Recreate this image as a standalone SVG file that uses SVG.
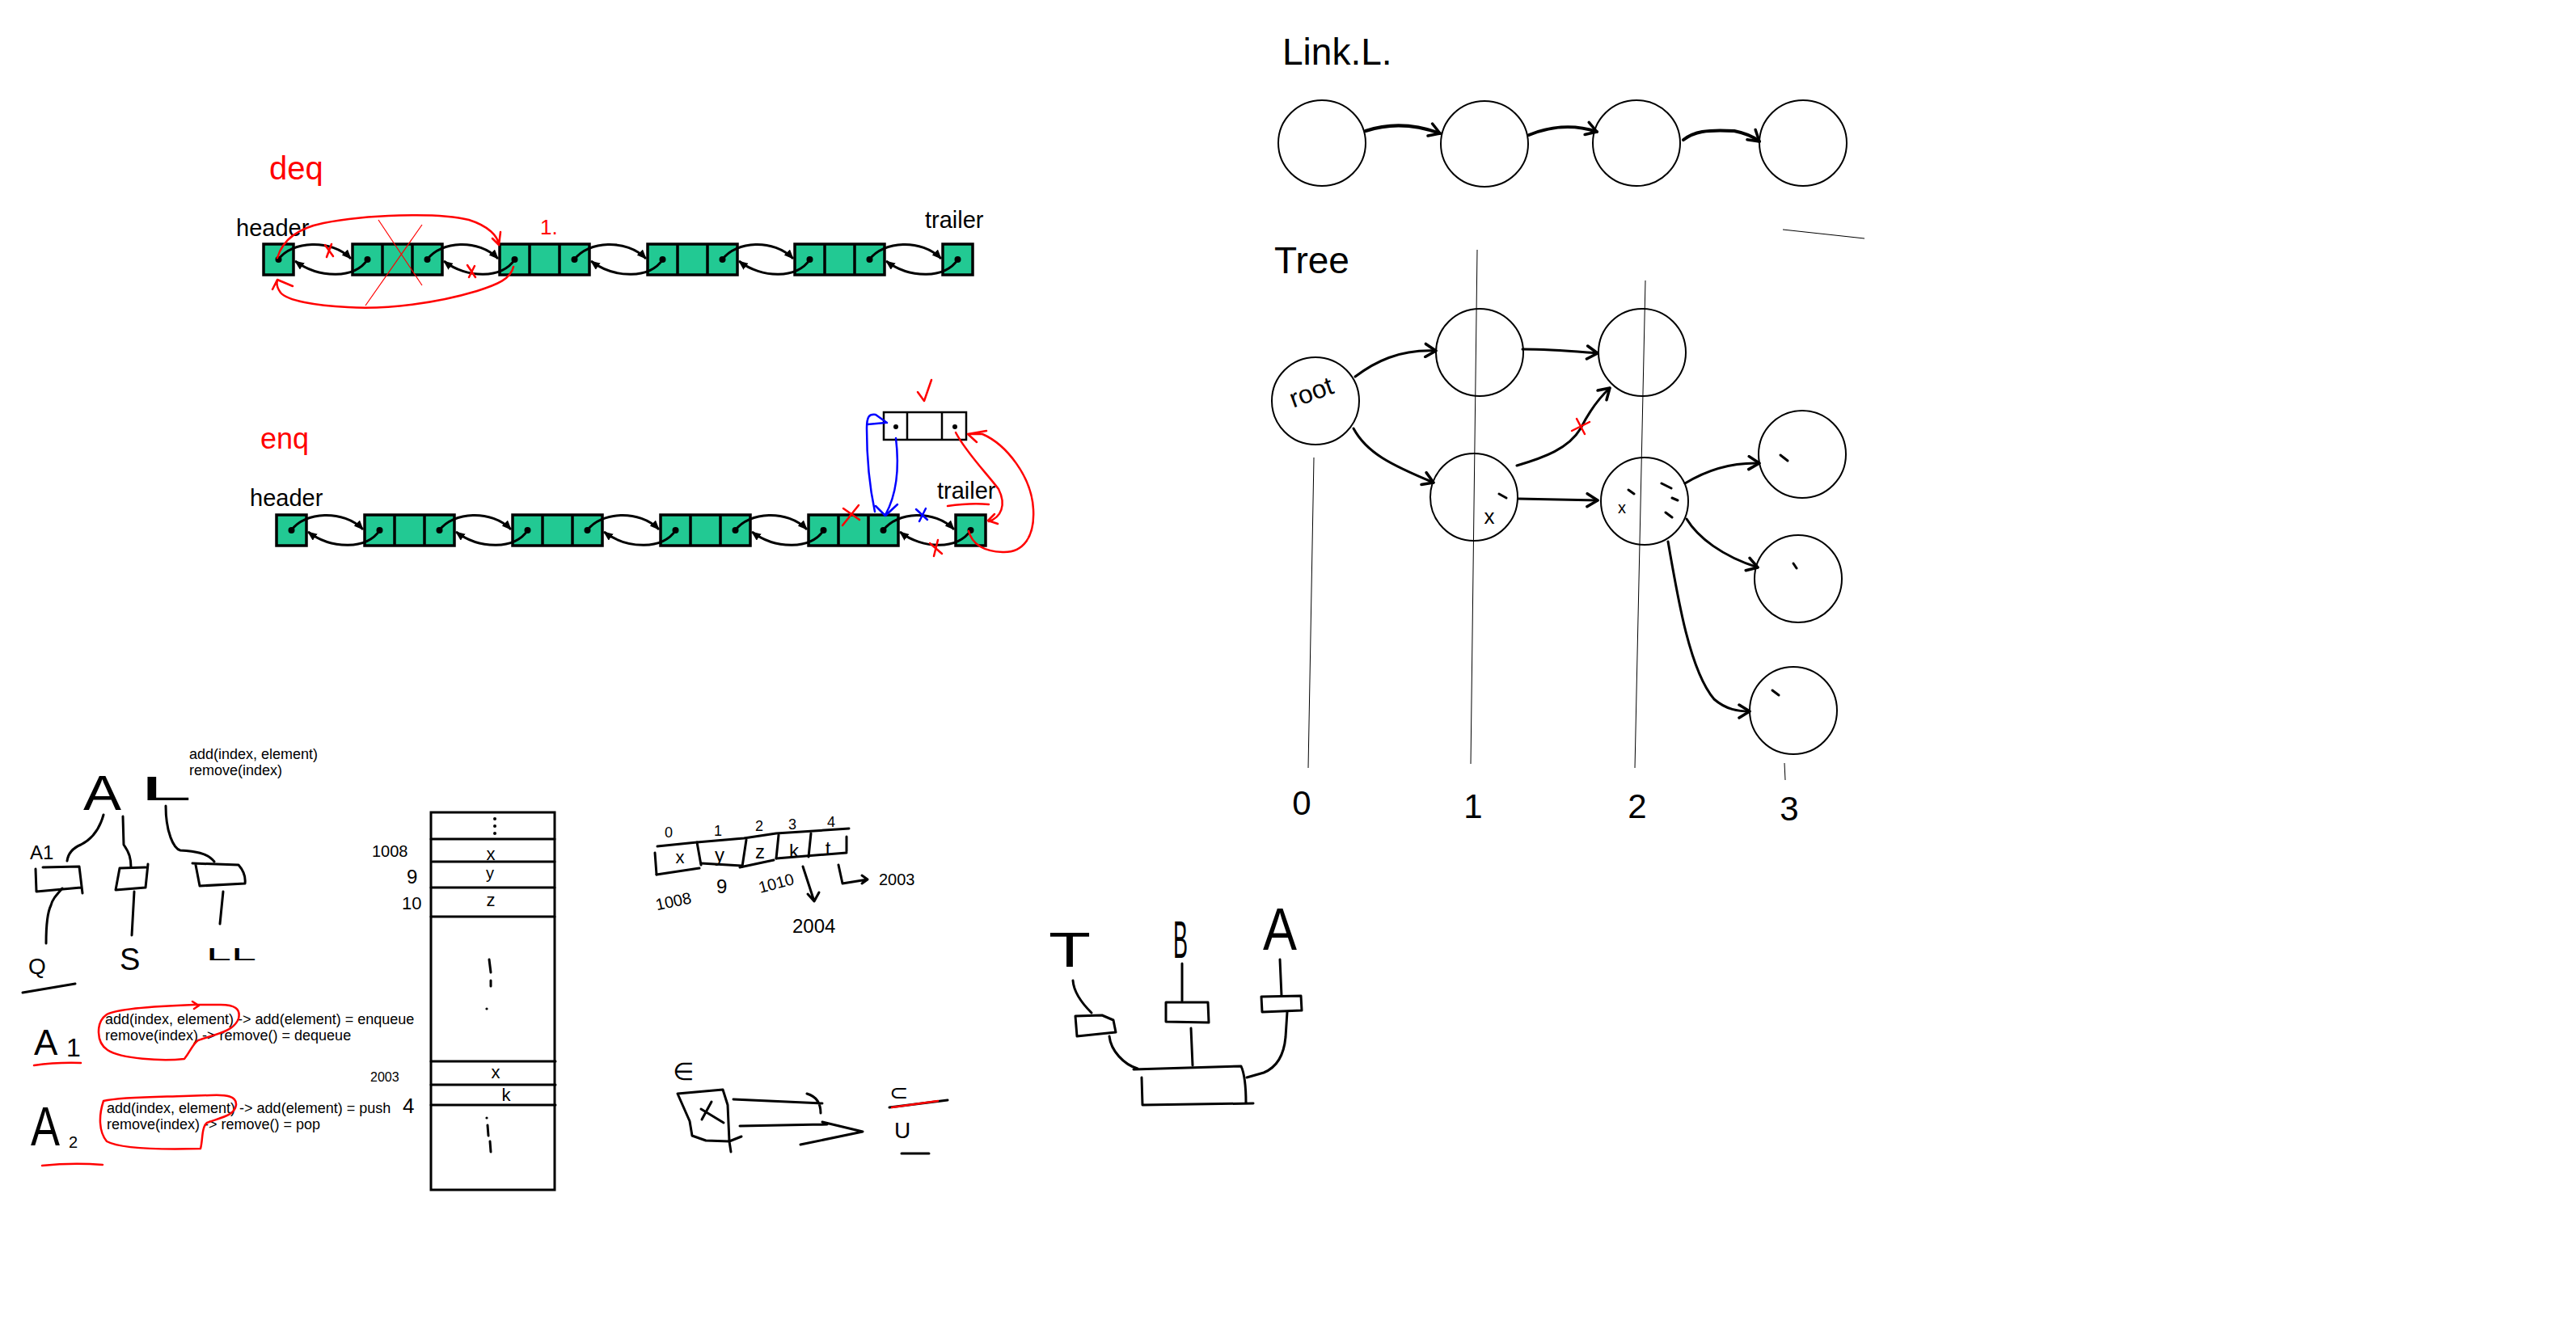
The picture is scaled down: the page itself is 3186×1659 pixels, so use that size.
<svg xmlns="http://www.w3.org/2000/svg" width="3186" height="1659" viewBox="0 0 3186 1659">
<style>
.bg{fill:#fff}
.box{fill:#22c993;stroke:#000;stroke-width:3.5}
.wbox{fill:#fff;stroke:#000;stroke-width:2.5}
.div{stroke:#000;stroke-width:3.5}
.wdiv{stroke:#000;stroke-width:2.5}
.lnk{fill:none;stroke:#000;stroke-width:3}
.red{fill:none;stroke:#f00;stroke-width:2.5;stroke-linecap:round;stroke-linejoin:round}
.redt{fill:none;stroke:#f00;stroke-width:1.2}
.blue{fill:none;stroke:#00f;stroke-width:2.5;stroke-linecap:round;stroke-linejoin:round}
.pen{fill:none;stroke:#000;stroke-width:3;stroke-linecap:round;stroke-linejoin:round}
.pen4{fill:none;stroke:#000;stroke-width:4;stroke-linecap:round;stroke-linejoin:round}
.thin{fill:none;stroke:#000;stroke-width:1}
.circ{fill:none;stroke:#000;stroke-width:2}
.t{font-family:"Liberation Sans",Arial,sans-serif;fill:#000}
.tr{font-family:"Liberation Sans",Arial,sans-serif;fill:#f00}
.dj{font-family:"DejaVu Sans",sans-serif;fill:#000}
</style>
<defs>
<marker id="ah" viewBox="0 0 12 10" refX="11" refY="5" markerWidth="12" markerHeight="10" markerUnits="userSpaceOnUse" orient="auto"><path d="M0,0 L12,5 L0,10 z" fill="#000"/></marker>
<marker id="chev" viewBox="0 0 20 20" refX="17" refY="10" markerWidth="20" markerHeight="20" markerUnits="userSpaceOnUse" orient="auto"><path d="M4,2 L17,10 L4,18" fill="none" stroke="#000" stroke-width="3.5" stroke-linecap="round" stroke-linejoin="round"/></marker>
</defs>
<rect class="bg" width="3186" height="1659"/>

<!-- ===== Deq list ===== -->
<g id="deq-list">
<text class="tr" x="333" y="222" font-size="40">deq</text>
<text class="t" x="292" y="292" font-size="29">header</text>
<text class="t" x="1144" y="282" font-size="29">trailer</text>
<text class="tr" x="668" y="290" font-size="26">1.</text>
<g id="deq-header"><rect class="box" x="326" y="302" width="37" height="38"/><circle cx="344.5" cy="321" r="4"/></g>
<g id="deq-n1"><rect class="box" x="436" y="302" width="111" height="38"/><line class="div" x1="473" y1="302" x2="473" y2="340"/><line class="div" x1="510" y1="302" x2="510" y2="340"/><circle cx="454.5" cy="321" r="4"/><circle cx="528.5" cy="321" r="4"/></g>
<g id="deq-n2"><rect class="box" x="618" y="302" width="111" height="38"/><line class="div" x1="655" y1="302" x2="655" y2="340"/><line class="div" x1="692" y1="302" x2="692" y2="340"/><circle cx="636.5" cy="321" r="4"/><circle cx="710.5" cy="321" r="4"/></g>
<g id="deq-n3"><rect class="box" x="801" y="302" width="111" height="38"/><line class="div" x1="838" y1="302" x2="838" y2="340"/><line class="div" x1="875" y1="302" x2="875" y2="340"/><circle cx="819.5" cy="321" r="4"/><circle cx="893.5" cy="321" r="4"/></g>
<g id="deq-n4"><rect class="box" x="983" y="302" width="111" height="38"/><line class="div" x1="1020" y1="302" x2="1020" y2="340"/><line class="div" x1="1057" y1="302" x2="1057" y2="340"/><circle cx="1001.5" cy="321" r="4"/><circle cx="1075.5" cy="321" r="4"/></g>
<g id="deq-trailer"><rect class="box" x="1166" y="302" width="37" height="38"/><circle cx="1184.5" cy="321" r="4"/></g>
</g>

<!-- ===== Enq list ===== -->
<g id="enq-list">
<text class="tr" x="322" y="555" font-size="36">enq</text>
<text class="t" x="309" y="626" font-size="29">header</text>
<text class="t" x="1159" y="617" font-size="29">trailer</text>
<g id="enq-header"><rect class="box" x="342" y="637" width="37" height="38"/><circle cx="360.5" cy="656" r="4"/></g>
<g id="enq-n1"><rect class="box" x="451" y="637" width="111" height="38"/><line class="div" x1="488" y1="637" x2="488" y2="675"/><line class="div" x1="525" y1="637" x2="525" y2="675"/><circle cx="469.5" cy="656" r="4"/><circle cx="543.5" cy="656" r="4"/></g>
<g id="enq-n2"><rect class="box" x="634" y="637" width="111" height="38"/><line class="div" x1="671" y1="637" x2="671" y2="675"/><line class="div" x1="708" y1="637" x2="708" y2="675"/><circle cx="652.5" cy="656" r="4"/><circle cx="726.5" cy="656" r="4"/></g>
<g id="enq-n3"><rect class="box" x="817" y="637" width="111" height="38"/><line class="div" x1="854" y1="637" x2="854" y2="675"/><line class="div" x1="891" y1="637" x2="891" y2="675"/><circle cx="835.5" cy="656" r="4"/><circle cx="909.5" cy="656" r="4"/></g>
<g id="enq-n4"><rect class="box" x="1000" y="637" width="111" height="38"/><line class="div" x1="1037" y1="637" x2="1037" y2="675"/><line class="div" x1="1074" y1="637" x2="1074" y2="675"/><circle cx="1018.5" cy="656" r="4"/><circle cx="1092.5" cy="656" r="4"/></g>
<g id="enq-trailer"><rect class="box" x="1182" y="637" width="37" height="38"/><circle cx="1200.5" cy="656" r="4"/></g>
<g id="enq-new"><rect class="wbox" x="1093" y="510" width="102" height="34"/><line class="wdiv" x1="1122" y1="510" x2="1122" y2="544"/><line class="wdiv" x1="1165" y1="510" x2="1165" y2="544"/><circle cx="1108" cy="528" r="3"/><circle cx="1181" cy="528" r="3"/></g>
</g>

<!-- ===== Link.L ===== -->
<g id="linkl">
<text class="t" x="1586" y="80" font-size="46">Link.L.</text>
<g id="ll1"><ellipse class="circ" cx="1635" cy="177" rx="54" ry="53"/></g>
<g id="ll2"><ellipse class="circ" cx="1836" cy="178" rx="54" ry="53"/></g>
<g id="ll3"><ellipse class="circ" cx="2024" cy="177" rx="54" ry="53"/></g>
<g id="ll4"><ellipse class="circ" cx="2230" cy="177" rx="54" ry="53"/></g>
<path class="thin" d="M2205,284 L2306,295"/>
</g>

<!-- ===== Tree ===== -->
<g id="tree">
<text class="t" x="1576" y="338" font-size="46">Tree</text>
<path class="thin" d="M1827,309 L1819,945"/>
<path class="thin" d="M2035,347 L2022,950"/>
<path class="thin" d="M1625,566 L1618,950"/>
<path class="thin" d="M2207,944 L2208,965"/>
<g id="t-root"><circle class="circ" cx="1627" cy="496" r="54"/><text class="t" x="1622" y="496" font-size="32" text-anchor="middle" transform="rotate(-20 1622 486)">root</text></g>
<g id="t-n1"><circle class="circ" cx="1830" cy="436" r="54"/></g>
<g id="t-n2"><circle class="circ" cx="2031" cy="436" r="54"/></g>
<g id="t-n3"><circle class="circ" cx="1823" cy="615" r="54"/><text class="t" x="1842" y="648" font-size="26" text-anchor="middle">x</text><path class="pen" d="M1854,611 L1863,616"/></g>
<g id="t-n4"><circle class="circ" cx="2034" cy="620" r="54"/><text class="t" x="2006" y="635" font-size="20" text-anchor="middle">x</text><path class="pen" d="M2014,606 L2021,611 M2055,598 L2067,604 M2068,616 L2075,619 M2060,634 L2068,640"/></g>
<g id="t-n5"><circle class="circ" cx="2229" cy="562" r="54"/><path class="pen" d="M2202,563 L2211,570"/></g>
<g id="t-n6"><circle class="circ" cx="2224" cy="716" r="54"/><path class="pen" d="M2218,697 L2222,703"/></g>
<g id="t-n7"><circle class="circ" cx="2218" cy="879" r="54"/><path class="pen" d="M2192,854 L2200,860"/></g>
<text class="t" x="1610" y="1008" font-size="42" text-anchor="middle">0</text>
<text class="t" x="1822" y="1012" font-size="42" text-anchor="middle">1</text>
<text class="t" x="2025" y="1012" font-size="42" text-anchor="middle">2</text>
<text class="t" x="2213" y="1015" font-size="42" text-anchor="middle">3</text>
</g>

<!-- ===== AL hierarchy ===== -->
<g id="al">
<text class="t" x="234" y="939" font-size="18">add(index, element)</text>
<text class="t" x="234" y="959" font-size="18">remove(index)</text>
<text class="t" x="103" y="1002" font-size="62" textLength="47" lengthAdjust="spacingAndGlyphs">A</text>
<text class="t" x="173" y="990" font-size="42" textLength="64" lengthAdjust="spacingAndGlyphs">L</text>
<text class="t" x="37" y="1063" font-size="24">A1</text>
<path class="pen" d="M128,1008 C122,1030 110,1040 100,1045 C88,1050 84,1058 83,1065"/>
<path class="pen" d="M152,1010 L153,1045 C160,1055 162,1062 162,1073"/>
<path class="pen" d="M205,997 C205,1030 215,1050 223,1052 C240,1053 257,1055 265,1066"/>
<g id="al-b1"><path class="pen" d="M53,1073 L98,1072 L102,1105 M44,1075 L45,1103 L100,1098"/></g>
<g id="al-b2"><path class="pen" d="M148,1074 L180,1073 M183,1069 L180,1098 L143,1101 L148,1074"/></g>
<g id="al-b3"><path class="pen" d="M238,1068 L295,1070 C302,1078 304,1085 303,1093 L247,1096 L242,1070"/></g>
<path class="pen" d="M77,1099 C70,1107 65,1112 63,1120 C58,1130 57,1145 57,1167"/>
<path class="pen" d="M166,1103 L163,1157"/>
<path class="pen" d="M276,1103 L272,1143"/>
<text class="t" x="35" y="1205" font-size="28">Q</text>
<text class="t" x="148" y="1200" font-size="38">S</text>
<text class="t" x="255" y="1188" font-size="22" textLength="62" lengthAdjust="spacingAndGlyphs">LL</text>
<path class="pen" d="M28,1228 L93,1217"/>
</g>

<!-- ===== A1 / A2 ===== -->
<g id="a1">
<text class="t" x="42" y="1305" font-size="44">A</text>
<text class="t" x="82" y="1307" font-size="32">1</text>
<path class="red" d="M42,1318 Q70,1314 100,1315"/>
<text class="t" x="130" y="1267" font-size="18">add(index, element) -&gt; add(element) = enqueue</text>
<text class="t" x="130" y="1287" font-size="18">remove(index) -&gt; remove() = dequeue</text>
<path class="red" d="M243,1243 C215,1244 150,1246 132,1255 C118,1265 119,1290 133,1299 C150,1310 200,1313 228,1310 C236,1300 238,1292 245,1287 C265,1280 290,1276 295,1260 C298,1248 290,1243 273,1243 Z M238,1239 L246,1244 L240,1248"/>
</g>
<g id="a2">
<text class="t" x="38" y="1417" font-size="68" textLength="36" lengthAdjust="spacingAndGlyphs">A</text>
<text class="t" x="85" y="1420" font-size="20">2</text>
<path class="red" d="M52,1442 Q90,1438 127,1441"/>
<text class="t" x="132" y="1377" font-size="18">add(index, element) -&gt; add(element) = push</text>
<text class="t" x="132" y="1397" font-size="18">remove(index) -&gt; remove() = pop</text>
<path class="red" d="M227,1356 C200,1357 150,1357 128,1362 C122,1380 122,1400 132,1412 C150,1422 210,1422 248,1421 C251,1410 249,1395 256,1389 C275,1382 290,1380 292,1367 C293,1356 280,1354 260,1355 Z"/>
</g>

<!-- ===== Memory stack ===== -->
<g id="stack">
<rect x="533" y="1005" width="153" height="467" fill="none" stroke="#000" stroke-width="3"/>
<path class="pen" d="M533,1038 L686,1038 M535,1066 L686,1066 M533,1098 L686,1098 M533,1134 L686,1134 M533,1313 L687,1313 M533,1342 L687,1342 M533,1367 L687,1367"/>
<circle cx="612" cy="1013" r="2"/><circle cx="612" cy="1022" r="2"/><circle cx="612" cy="1031" r="2"/>
<text class="t" x="607" y="1064" font-size="22" text-anchor="middle">x</text>
<text class="t" x="606" y="1087" font-size="20" text-anchor="middle">y</text>
<text class="t" x="607" y="1121" font-size="22" text-anchor="middle">z</text>
<path class="pen" d="M605,1187 L607,1203 M607,1213 L607,1220"/><circle cx="602" cy="1248" r="1.6"/>
<text class="t" x="613" y="1334" font-size="22" text-anchor="middle">x</text>
<text class="t" x="626" y="1362" font-size="22" text-anchor="middle">k</text>
<circle cx="602" cy="1383" r="1.6"/><path class="pen" d="M603,1392 L604,1405 M606,1412 L607,1425"/>
<text class="t" x="460" y="1060" font-size="20">1008</text>
<text class="t" x="503" y="1093" font-size="24">9</text>
<text class="t" x="497" y="1125" font-size="22">10</text>
<text class="t" x="458" y="1338" font-size="16">2003</text>
<text class="t" x="498" y="1377" font-size="26">4</text>
</g>

<!-- ===== Array ===== -->
<g id="array">
<text class="t" x="827" y="1036" font-size="18" text-anchor="middle">0</text>
<text class="t" x="888" y="1034" font-size="18" text-anchor="middle">1</text>
<text class="t" x="939" y="1028" font-size="18" text-anchor="middle">2</text>
<text class="t" x="980" y="1026" font-size="18" text-anchor="middle">3</text>
<text class="t" x="1028" y="1023" font-size="18" text-anchor="middle">4</text>
<path class="pen" d="M813,1047 L862,1042 L920,1037 L960,1031 L1050,1025"/>
<path class="pen" d="M812,1082 L865,1074 M867,1068 L917,1071 M915,1073 L957,1064 M960,1062 L1047,1055"/>
<path class="pen" d="M810,1055 L812,1082 M862,1042 L867,1070 M923,1039 L918,1072 M963,1033 L960,1062 M1003,1031 L1000,1060 M1047,1035 L1047,1053"/>
<text class="t" x="841" y="1068" font-size="22" text-anchor="middle">x</text>
<text class="t" x="890" y="1066" font-size="24" text-anchor="middle">y</text>
<text class="t" x="940" y="1062" font-size="24" text-anchor="middle">z</text>
<text class="t" x="982" y="1061" font-size="24" text-anchor="middle">k</text>
<text class="t" x="1024" y="1058" font-size="24" text-anchor="middle">t</text>
<text class="t" x="810" y="1122" font-size="20" transform="rotate(-12 832 1112)">1008</text>
<text class="t" x="886" y="1105" font-size="24">9</text>
<text class="t" x="937" y="1100" font-size="20" transform="rotate(-15 958 1090)">1010</text>
<path class="pen" d="M993,1072 L1007,1115 M999,1106 L1007,1115 L1013,1104"/>
<text class="t" x="980" y="1154" font-size="24">2004</text>
<path class="pen" d="M1037,1070 L1042,1093 L1073,1088 M1066,1083 L1073,1088 L1066,1093"/>
<text class="t" x="1087" y="1095" font-size="20">2003</text>
</g>

<!-- ===== Set sketch ===== -->
<g id="sets">
<text class="dj" x="832" y="1336" font-size="30">∈</text>
<path class="pen" d="M838,1353 L894,1348 L900,1367 L902,1412 L904,1425 M838,1353 L853,1387 L856,1405 L873,1411 L902,1412 L917,1406"/>
<path class="pen" d="M868,1385 L880,1363 M867,1372 L895,1389"/>
<path class="pen" d="M907,1360 L1017,1365 M998,1353 Q1015,1358 1015,1377"/>
<path class="pen" d="M915,1393 L1023,1391 M1017,1388 L1067,1400 L990,1416"/>
<text class="dj" x="1100" y="1361" font-size="28">⊂</text>
<path class="pen" d="M1100,1370 L1172,1361"/>
<path class="red" d="M1103,1370 L1160,1362"/>
<text class="t" x="1106" y="1408" font-size="28">U</text>
<path class="pen" d="M1115,1427 L1149,1427"/>
</g>

<!-- ===== TBA sketch ===== -->
<g id="tba">
<text class="t" x="1297" y="1196" font-size="62" textLength="52" lengthAdjust="spacingAndGlyphs">T</text>
<text class="t" x="1451" y="1185" font-size="64" textLength="18" lengthAdjust="spacingAndGlyphs">B</text>
<text class="t" x="1562" y="1175" font-size="74" textLength="42" lengthAdjust="spacingAndGlyphs">A</text>
<path class="pen" d="M1327,1213 C1328,1228 1340,1243 1350,1253"/>
<path class="pen" d="M1330,1257 L1363,1256 L1377,1262 L1380,1277 L1332,1282 L1330,1257"/>
<path class="pen" d="M1462,1192 L1462,1238"/>
<path class="pen" d="M1442,1240 L1494,1240 L1495,1265 L1442,1264 Z"/>
<path class="pen" d="M1583,1187 L1585,1232"/>
<path class="pen" d="M1560,1233 L1609,1232 L1610,1250 L1561,1252 Z"/>
<path class="pen" d="M1372,1282 C1374,1300 1390,1317 1407,1322"/>
<path class="pen" d="M1473,1272 L1475,1318"/>
<path class="pen" d="M1592,1252 L1590,1283 C1588,1305 1580,1320 1563,1327 L1542,1333"/>
<path class="pen" d="M1402,1323 L1535,1319 C1540,1330 1541,1345 1541,1365 M1413,1367 L1550,1365 M1412,1333 L1413,1367"/>
</g>

<!-- ===== Connectors ===== -->
<g id="connectors">
<g class="lnk-deq">
<path class="lnk" marker-end="url(#ah)" d="M344.5,321 C360,298 410,295 434,320"/>
<path class="lnk" marker-end="url(#ah)" d="M528.5,321 C545,298 592,295 616,320"/>
<path class="lnk" marker-end="url(#ah)" d="M710.5,321 C727,298 775,295 799,320"/>
<path class="lnk" marker-end="url(#ah)" d="M893.5,321 C910,298 957,295 981,320"/>
<path class="lnk" marker-end="url(#ah)" d="M1075.5,321 C1092,298 1140,295 1164,320"/>
<path class="lnk" marker-end="url(#ah)" d="M454.5,321 C440,345 395,345 365,323"/>
<path class="lnk" marker-end="url(#ah)" d="M636.5,321 C622,345 577,345 549,323"/>
<path class="lnk" marker-end="url(#ah)" d="M819.5,321 C805,345 760,345 731,323"/>
<path class="lnk" marker-end="url(#ah)" d="M1001.5,321 C987,345 942,345 914,323"/>
<path class="lnk" marker-end="url(#ah)" d="M1184.5,321 C1170,345 1125,345 1096,323"/>
</g>
<g class="lnk-enq">
<path class="lnk" marker-end="url(#ah)" d="M360.5,656 C376,633 425,630 449,655"/>
<path class="lnk" marker-end="url(#ah)" d="M543.5,656 C560,633 608,630 632,655"/>
<path class="lnk" marker-end="url(#ah)" d="M726.5,656 C743,633 791,630 815,655"/>
<path class="lnk" marker-end="url(#ah)" d="M909.5,656 C926,633 974,630 998,655"/>
<path class="lnk" marker-end="url(#ah)" d="M1092.5,656 C1109,633 1156,630 1180,655"/>
<path class="lnk" marker-end="url(#ah)" d="M469.5,656 C455,680 410,680 381,658"/>
<path class="lnk" marker-end="url(#ah)" d="M652.5,656 C638,680 593,680 564,658"/>
<path class="lnk" marker-end="url(#ah)" d="M835.5,656 C821,680 776,680 747,658"/>
<path class="lnk" marker-end="url(#ah)" d="M1018.5,656 C1004,680 959,680 930,658"/>
<path class="lnk" marker-end="url(#ah)" d="M1200.5,656 C1186,680 1141,680 1113,658"/>
</g>
<g class="deq-red">
<path class="red" d="M343,319 C350,295 370,282 400,276 C450,266 540,262 580,272 C605,280 615,292 617,302 M609,295 L617,303 L619,287"/>
<path class="red" d="M635,330 C632,345 615,352 590,360 C540,375 480,383 430,380 C390,378 355,372 347,362 C342,355 342,350 343,347 M337,358 L343,346 L362,354"/>
<path class="redt" d="M468,272 L522,353 M522,278 L452,378"/>
<path class="red" d="M402,303 L412,317 M410,302 L404,318"/>
<path class="red" d="M578,328 L588,343 M587,329 L580,343"/>
</g>
<g class="enq-marks">
<path class="red" d="M1135,485 L1143,496 L1152,470"/>
<path class="red" d="M1182,535 C1195,560 1220,585 1235,605 C1245,625 1238,640 1223,645 M1230,636 L1222,644 L1234,648"/>
<path class="red" d="M1198,657 C1202,672 1215,682 1240,683 C1265,684 1280,665 1278,630 C1276,590 1245,550 1215,537 L1197,537 M1220,533 L1197,537 L1208,547"/>
<path class="red" d="M1043,629 L1063,643 M1062,625 L1042,650"/>
<path class="red" d="M1150,672 L1165,685 M1160,668 L1155,688"/>
<path class="red" d="M1172,626 Q1200,622 1223,624"/>
<path class="blue" d="M1108,542 C1112,575 1110,610 1095,637 M1083,626 L1095,638 L1110,624"/>
<path class="blue" d="M1082,633 C1075,600 1072,560 1072,530 C1072,515 1075,512 1083,513 L1097,523 M1073,525 L1095,523"/>
<path class="blue" d="M1133,630 L1147,643 M1145,629 L1137,645"/>
</g>
<g class="ll-arrows">
<path class="pen4" marker-end="url(#chev)" d="M1689,162 C1710,155 1740,150 1781,165"/>
<path class="pen4" marker-end="url(#chev)" d="M1891,167 C1915,157 1945,153 1975,163"/>
<path class="pen4" marker-end="url(#chev)" d="M2082,173 C2095,163 2110,160 2145,162 C2160,165 2170,170 2176,175"/>
</g>
<g class="tree-arrows">
<path class="pen" marker-end="url(#chev)" d="M1676,466 C1700,448 1730,432 1776,434"/>
<path class="pen" marker-end="url(#chev)" d="M1883,432 C1920,432 1950,435 1976,437"/>
<path class="pen" marker-end="url(#chev)" d="M1674,530 C1690,560 1720,575 1773,597"/>
<path class="pen" marker-end="url(#chev)" d="M1876,576 C1910,566 1940,555 1955,530 C1965,510 1975,495 1991,480"/>
<path class="pen" marker-end="url(#chev)" d="M1878,617 L1976,619"/>
<path class="pen" marker-end="url(#chev)" d="M2084,598 C2110,582 2140,572 2176,573"/>
<path class="pen" marker-end="url(#chev)" d="M2086,642 C2100,665 2130,688 2174,702"/>
<path class="pen" marker-end="url(#chev)" d="M2063,670 C2075,740 2090,830 2120,865 C2135,878 2150,880 2164,880"/>
<path class="red" d="M1944,533 L1966,522 M1950,518 L1960,537"/>
</g>
</g>
</svg>
